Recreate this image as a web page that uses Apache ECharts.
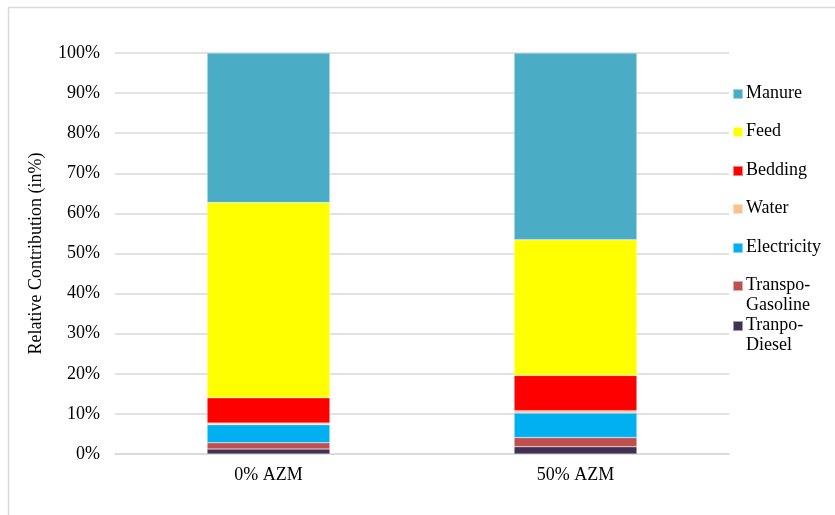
<!DOCTYPE html>
<html><head><meta charset="utf-8">
<script src="https://cdn.jsdelivr.net/npm/echarts@6/dist/echarts.min.js"></script>
<style>html,body{margin:0;padding:0;background:#fff}#c{width:835px;height:515px}</style>
</head><body><div id="c"></div>
<script>
const categories = ['0% AZM', '50% AZM'];
const seriesNames = ['Tranpo-Diesel', 'Transpo-Gasoline', 'Electricity', 'Water', 'Bedding', 'Feed', 'Manure'];
const diesel = [1.25, 1.8];
const gasoline = [1.55, 2.3];
const electricity = [4.5, 6.1];
const water = [0.4, 0.6];
const bedding = [6.3, 8.8];
const feed = [48.7, 33.8];
const manure = [37.3, 46.6];
const yTicks = [0, 10, 20, 30, 40, 50, 60, 70, 80, 90, 100];

const values = [diesel, gasoline, electricity, water, bedding, feed, manure];
const colors = ['#403152', '#C0504D', '#00B0F0', '#FAC090', '#FF0000', '#FFFF00', '#4BACC6'];
const legendLabels = {
  'Tranpo-Diesel': 'Tranpo-\nDiesel',
  'Transpo-Gasoline': 'Transpo-\nGasoline'
};
const FONT = 'Liberation Serif';

const chart = echarts.init(document.getElementById('c'), null, {renderer: 'canvas'});

const legendOrder = ['Manure', 'Feed', 'Bedding', 'Water', 'Electricity', 'Transpo-Gasoline', 'Tranpo-Diesel'];
const legendY = [93, 131, 170, 208, 247, 285, 325];
const legends = legendOrder.map((name, i) => ({
  data: [name],
  orient: 'vertical',
  left: 732,
  top: legendY[i] - 5,
  padding: 0,
  itemWidth: 10,
  itemHeight: 10,
  itemGap: 0,
  icon: 'rect',
  selectedMode: false,
  formatter: () => '',
  textStyle: {fontSize: 1}
}));
const legendTexts = legendOrder.map((name, i) => ({
  type: 'text', silent: true,
  left: 746, top: legendY[i] - 10,
  style: {
    text: legendLabels[name] || name,
    fontFamily: FONT, fontSize: 18, fontStyle: 'normal', fontWeight: 'normal',
    fill: '#000', lineHeight: 20.5
  }
}));

chart.setOption({
  animation: false,
  backgroundColor: '#fff',
  textStyle: {fontFamily: FONT},
  graphic: [{
    type: 'rect', silent: true,
    shape: {x: 8.5, y: 7.5, width: 840, height: 520},
    style: {fill: 'none', stroke: '#D9D9D9', lineWidth: 1.5}
  }].concat(legendTexts),
  grid: {left: 115, right: 106, top: 53, bottom: 61},
  legend: legends,
  xAxis: {
    type: 'category',
    data: categories,
    axisLine: {show: true, lineStyle: {color: '#D9D9D9', width: 1.5}},
    axisTick: {show: false},
    axisLabel: {fontFamily: FONT, fontSize: 18, color: '#000', margin: 12}
  },
  yAxis: {
    type: 'value',
    min: 0, max: 100, interval: 10,
    name: 'Relative Contribution (in%)',
    nameLocation: 'middle',
    nameGap: 70,
    nameTextStyle: {fontFamily: FONT, fontSize: 18, color: '#000'},
    axisLine: {show: false},
    axisTick: {show: false},
    splitLine: {lineStyle: {color: '#D9D9D9', width: 1.5}},
    axisLabel: {
      fontFamily: FONT, fontSize: 18, color: '#000', margin: 15,
      formatter: v => yTicks.includes(v) ? v + '%' : ''
    }
  },
  series: seriesNames.map((name, i) => ({
    name: name,
    type: 'bar',
    stack: 'total',
    barWidth: '40%',
    data: values[i],
    itemStyle: {color: colors[i], borderColor: 'rgba(255,255,255,0.5)', borderWidth: 0.5}
  }))
});
</script></body></html>
